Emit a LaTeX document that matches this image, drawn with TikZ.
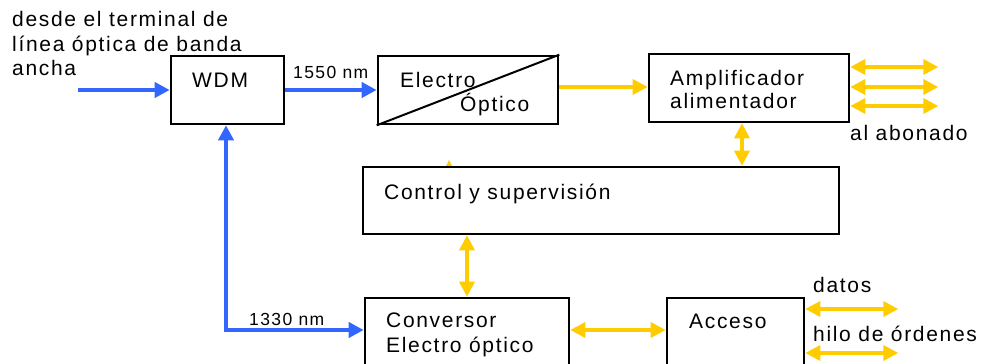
\documentclass[tikz,border=0pt]{standalone}
\usepackage{fontspec}
\setmainfont{Liberation Sans}[LetterSpace=8]
\usetikzlibrary{arrows.meta,calc}
\definecolor{fibra}{RGB}{51,102,255}
\definecolor{senal}{RGB}{255,204,0}
\tikzset{
  bloque/.style={draw,line width=2.6pt,fill=white,inner sep=0pt,minimum height=68pt},
  rotulo/.style={anchor=base west,inner sep=0pt,font=\fontsize{21}{24}\selectfont},
  onda/.style={anchor=base west,inner sep=0pt,font=\fontsize{17.5}{20}\selectfont},
  punta/.tip={Triangle[length=15pt,width=15pt]},
  azul/.style={draw=fibra,line width=4pt,-punta},
  azul doble/.style={draw=fibra,line width=4pt,punta-punta},
  amarillo/.style={draw=senal,line width=3.5pt,-punta},
  amarillo doble/.style={draw=senal,line width=3.5pt,punta-punta}
}
\begin{document}
\begin{tikzpicture}[x=1pt,y=-1pt]
  \useasboundingbox (0,0) rectangle (983,364);
  \clip (0,0) rectangle (983,364);
  % punta que asoma sobre el bloque de control
  \fill[senal] (445,168) -- (449,160) -- (453,168) -- cycle;
  % bloques
  \node[bloque,minimum width=113pt] (wdm) at (227.5,90) {};
  \node[bloque,minimum width=180pt] (eo) at (468,90) {};
  \draw[line width=2pt] (eo.south west) -- (eo.north east);
  \node[bloque,minimum width=200pt] (amp) at (749,88) {};
  \node[bloque,minimum width=476pt,minimum height=67pt] (ctrl) at (601,200.5) {};
  \node[bloque,minimum width=204pt,minimum height=70pt] (conv) at (467,333) {};
  \node[bloque,minimum width=137pt,minimum height=70pt] (acc) at (735.5,333) {};
  % textos de los bloques
  \node[rotulo] (twdm) at (192,87) {WDM};
  \node[rotulo] (telec) at (400,87) {Electro};
  \node[rotulo] (topt) at (460,111) {Óptico};
  \node[rotulo] (tamp) at (670,85) {Amplificador};
  \node[rotulo] (tali) at (670,108) {alimentador};
  \node[rotulo] (tctrl) at (384,199) {Control y supervisión};
  \node[rotulo] (tconv) at (386,327) {Conversor};
  \node[rotulo] (teo) at (386,352) {Electro óptico};
  \node[rotulo] (tacc) at (689,328) {Acceso};
  % textos exteriores
  \node[rotulo] (org1) at (12,27) {desde el terminal de};
  \node[rotulo] (org2) at (12,51) {línea óptica de banda};
  \node[rotulo] (org3) at (12,75) {ancha};
  \node[rotulo] (abon) at (850,140) {al abonado};
  \node[rotulo] (datos) at (813,292) {datos};
  \node[rotulo] (hilo) at (813,341) {hilo de órdenes};
  \node[onda] (l1550) at (293,78) {1550 nm};
  \node[onda] (l1330) at (249,325) {1330 nm};
  % fibra
  \coordinate (origen) at (78,90);
  \coordinate (codo) at (226,330);
  \draw[azul] (origen) -- (wdm.west);
  \draw[azul] (wdm.east) -- (eo.west);
  \draw[azul doble] (codo |- wdm.south) -- (codo) -- (codo -| conv.west);
  % senales
  \draw[amarillo] ([yshift=3pt]eo.east) -- ([yshift=3pt]eo.east -| amp.west);
  \draw[amarillo doble] ([xshift=-7pt]amp.south) -- ([xshift=-7pt]amp.south |- ctrl.north);
  \draw[amarillo doble] (conv.north |- ctrl.south) -- (conv.north);
  \draw[amarillo doble] ([yshift=3pt]conv.east) -- ([yshift=3pt]conv.east -| acc.west);
  \foreach \y in {67,87,106}
    \draw[amarillo doble] (amp.east |- 0,\y) -- ++(88,0);
  \foreach \y in {309,353}
    \draw[amarillo doble] (acc.east |- 0,\y) -- ++(93,0);
\end{tikzpicture}
\end{document}
